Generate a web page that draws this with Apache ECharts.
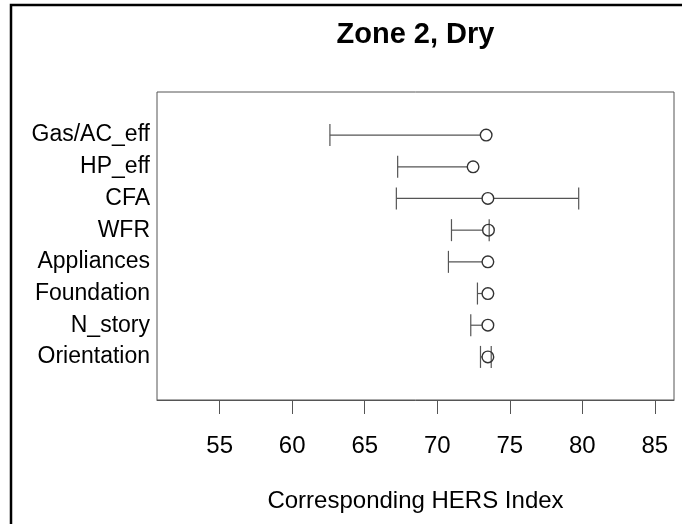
<!DOCTYPE html>
<html>
<head>
<meta charset="utf-8">
<script src="https://cdn.jsdelivr.net/npm/echarts@6/dist/echarts.min.js"></script>
<style>
	html, body { margin: 0; padding: 0; background: #fff; }
	#main { width: 682px; height: 524px; }
</style>
</head>
<body>
<div id="main"></div>
<script>
// rows from bottom (1) to top (8)
var categories = ['Orientation', 'N_story', 'Foundation', 'Appliances', 'WFR', 'CFA', 'HP_eff', 'Gas/AC_eff'];
var lowValues  = [72.98, 72.31, 72.77, 70.77, 70.98, 67.18, 67.27, 62.6];
var midValues  = [73.49, 73.49, 73.49, 73.49, 73.53, 73.49, 72.47, 73.37];
var highValues = [73.72, null, null, null, 73.58, 79.75, null, null];
var xTicks = [55, 60, 65, 70, 75, 80, 85];
var rowTicks = [1, 2, 3, 4, 5, 6, 7, 8];

var fontName = '"Liberation Sans", Arial, sans-serif';

var data = [];
for (var i = 0; i < categories.length; i++) {
	data.push([rowTicks[i], lowValues[i], midValues[i], highValues[i] == null ? midValues[i] : highValues[i]]);
}

function renderBar(params, api) {
	var idx = params.dataIndex;
	var row = api.value(0);
	var pLo = api.coord([api.value(1), row]);
	var pMid = api.coord([api.value(2), row]);
	var pHi = api.coord([api.value(3), row]);
	var r = 5.8;
	var cap = 11;
	var lineStyle = { stroke: '#555', lineWidth: 1.2 };
	var children = [];
	// left whisker
	children.push({ type: 'line', shape: { x1: pLo[0], y1: pLo[1], x2: pMid[0] - r, y2: pMid[1] }, style: lineStyle });
	children.push({ type: 'line', shape: { x1: pLo[0], y1: pLo[1] - cap, x2: pLo[0], y2: pLo[1] + cap }, style: lineStyle });
	// right whisker only where there is one
	if (highValues[idx] != null) {
		if (pHi[0] > pMid[0] + r) {
			children.push({ type: 'line', shape: { x1: pMid[0] + r, y1: pMid[1], x2: pHi[0], y2: pHi[1] }, style: lineStyle });
		}
		children.push({ type: 'line', shape: { x1: pHi[0], y1: pHi[1] - cap, x2: pHi[0], y2: pHi[1] + cap }, style: lineStyle });
	}
	children.push({ type: 'circle', shape: { cx: pMid[0], cy: pMid[1], r: r }, style: { fill: 'none', stroke: '#333', lineWidth: 1.4 } });
	return { type: 'group', children: children };
}

var chart = echarts.init(document.getElementById('main'));
var option = {
	backgroundColor: '#fff',
	animation: false,
	grid: {
		left: 157,
		right: 8,
		top: 92,
		bottom: 124,
		show: true,
		borderColor: '#555',
		borderWidth: 1
	},
	xAxis: {
		type: 'value',
		position: 'bottom',
		min: 50.68,
		max: 86.32,
		splitLine: { show: false },
		axisLine: { show: true, onZero: false, lineStyle: { color: '#555', width: 1 } },
		axisTick: {
			show: true,
			inside: false,
			length: 14,
			customValues: xTicks,
			lineStyle: { color: '#555', width: 1 }
		},
		axisLabel: {
			customValues: xTicks,
			margin: 34,
			color: '#000',
			fontSize: 24,
			fontFamily: fontName
		},
		name: 'Corresponding HERS Index',
		nameLocation: 'middle',
		nameGap: 89,
		nameTextStyle: { color: '#000', fontSize: 24, fontFamily: fontName }
	},
	yAxis: {
		type: 'value',
		min: -0.36,
		max: 9.36,
		splitLine: { show: false },
		axisLine: { show: false, onZero: false },
		axisTick: { show: false },
		axisLabel: {
			customValues: rowTicks,
			margin: 7,
			color: '#000',
			fontSize: 23,
			fontFamily: fontName,
			formatter: function (v) { return categories[v - 1]; }
		}
	},
	graphic: [
		{
			type: 'text',
			x: 415.5,
			y: 35,
			style: {
				text: 'Zone 2, Dry',
				textAlign: 'center',
				textVerticalAlign: 'middle',
				font: 'bold 29px ' + fontName,
				fill: '#000'
			}
		},
		{
			type: 'polyline',
			shape: { points: [[11, 524], [11, 5], [682, 5]] },
			style: { fill: 'none', stroke: '#000', lineWidth: 2.5 }
		}
	],
	series: [
		{
			type: 'custom',
			renderItem: renderBar,
			encode: { x: [1, 2, 3], y: 0 },
			data: data
		}
	]
};
chart.setOption(option);
</script>
</body>
</html>
